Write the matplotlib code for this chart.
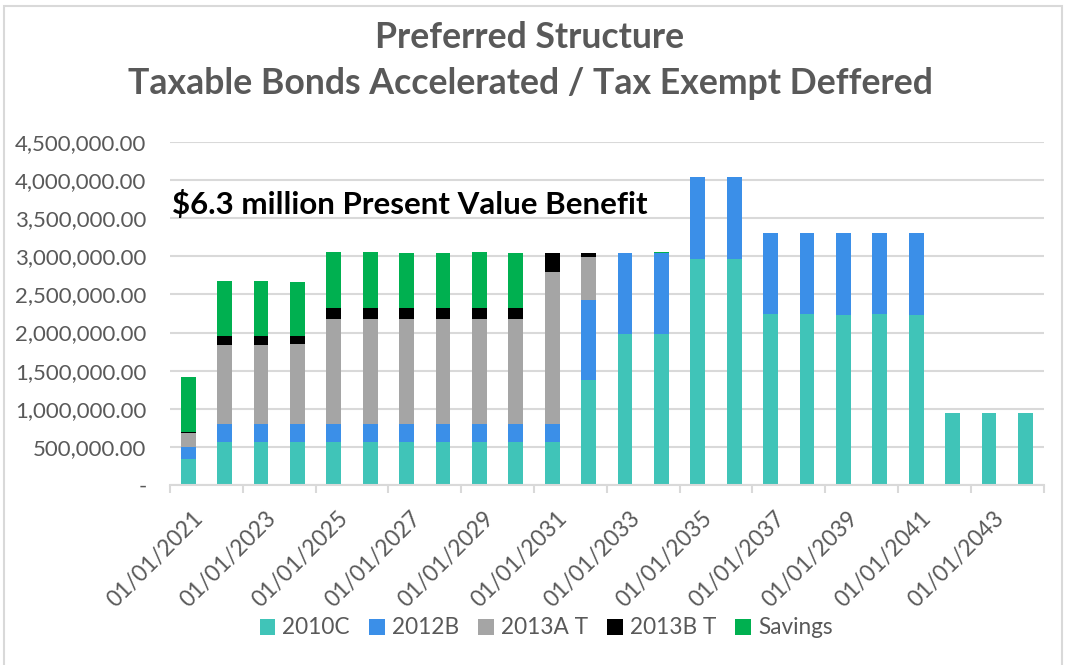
import matplotlib
matplotlib.use('Agg')
import matplotlib.pyplot as plt
from matplotlib.patches import Patch, Rectangle
from matplotlib.ticker import FuncFormatter, FixedLocator
from matplotlib.transforms import ScaledTranslation
import numpy as np

plt.rcParams['font.family'] = ['Lato', 'DejaVu Sans']

years = list(range(2021, 2045))
categories = [f"01/01/{y}" for y in years]

s2010C = [337000, 560000, 560000, 560000, 560000, 560000, 560000, 560000, 560000, 560000,
          560000, 1378000, 1982000, 1982000, 2970000, 2970000, 2240000, 2240000, 2227000,
          2240000, 2227000, 945000, 945000, 945000]
s2012B = [158000, 244000, 244000, 244000, 244000, 244000, 244000, 244000, 244000, 244000,
          244000, 1050000, 1058000, 1065000, 1068000, 1068000, 1063000, 1063000, 1076000,
          1063000, 1076000, 0, 0, 0]
s2013AT = [190000, 1033000, 1033000, 1046000, 1371000, 1371000, 1371000, 1371000, 1371000,
           1371000, 1996000, 560000, 0, 0, 0, 0, 0, 0, 0, 0, 0, 0, 0, 0]
s2013BT = [10000, 114000, 114000, 100000, 148000, 148000, 148000, 148000, 148000, 148000,
           240000, 52000, 0, 0, 0, 0, 0, 0, 0, 0, 0, 0, 0, 0]
savings = [717000, 730000, 730000, 718000, 739000, 735000, 722000, 722000, 731000, 722000,
           8000, 8000, 8000, 8000, 8000, 8000, 6000, 6000, 6000, 6000, 6000, 5000, 5000, 5000]

series = [s2010C, s2012B, s2013AT, s2013BT, savings]
series_names = ["2010C", "2012B", "2013A T", "2013B T", "Savings"]
colors = ["#40C4B8", "#3B8FE8", "#A5A5A5", "#000000", "#00B050"]

y_ticks = [0, 500000, 1000000, 1500000, 2000000, 2500000, 3000000, 3500000, 4000000, 4500000]

title_lines = ["Preferred Structure", "Taxable Bonds Accelerated / Tax Exempt Deffered"]
annotation = r"\$6.3 million Present Value Benefit"

W, H = 1068, 665
fig = plt.figure(figsize=(W / 100, H / 100), dpi=100)
fig.patch.set_facecolor('white')

# outer chart border
fig.patches.append(Rectangle((4 / W, -0.05), (1062 - 4) / W, 1.05 - 6 / H,
                             transform=fig.transFigure, fill=False,
                             edgecolor='#D9D9D9', linewidth=1.5))

ax = fig.add_axes([170 / W, 1 - 485 / H, (1043.6 - 170) / W, (485 - 142) / H])

x = np.arange(len(years))
bottom = np.zeros(len(years))
for vals, name, c in zip(series, series_names, colors):
    v = np.array(vals, dtype=float)
    ax.bar(x, v, width=0.41, bottom=bottom, color=c, label=name, zorder=3)
    bottom += v

ax.set_xlim(-0.5, len(years) - 0.5)
ax.set_ylim(0, 4500000)

for s in ['top', 'right', 'left']:
    ax.spines[s].set_visible(False)
ax.spines['bottom'].set_color('#D9D9D9')
ax.spines['bottom'].set_linewidth(1.5)
ax.spines['bottom'].set_zorder(4)

ax.yaxis.set_major_locator(FixedLocator(y_ticks))
ax.yaxis.set_major_formatter(FuncFormatter(lambda v, p: '-' if v == 0 else f"{v:,.2f}"))
ax.tick_params(axis='y', length=0, pad=17, labelsize=16, labelcolor='#595959')
ax.yaxis.grid(True, color='#D9D9D9', linewidth=1.5, zorder=0)
ax.set_axisbelow(True)

major = x[::2]
ax.set_xticks(major)
ax.set_xticklabels([categories[i] for i in major])
ax.set_xticks(np.arange(-0.5, len(years), 2), minor=True)
ax.tick_params(axis='x', which='major', length=0, pad=0, labelsize=16.3, labelcolor='#595959')
ax.tick_params(axis='x', which='minor', length=6, width=1.5, color='#D9D9D9')
off = ScaledTranslation(4 / 100, -23 / 100, fig.dpi_scale_trans)
for lab in ax.get_xticklabels():
    lab.set_rotation(45)
    lab.set_ha('right')
    lab.set_va('top')
    lab.set_rotation_mode('anchor')
    lab.set_transform(lab.get_transform() + off)

fig.text(530 / W, 1 - 37 / H, title_lines[0], ha='center', va='center',
         fontsize=25.7, fontweight='bold', color='#595959')
fig.text(530 / W, 1 - 84 / H, title_lines[1], ha='center', va='center',
         fontsize=25.7, fontweight='bold', color='#595959')

fig.text(172 / W, 1 - 205 / H, annotation, ha='left', va='center',
         fontsize=22.5, fontweight='bold', color='black')

handles = [Patch(facecolor=c) for c in colors]
fig.legend(handles, series_names, loc='center', bbox_to_anchor=(546 / W, 1 - 628 / H),
           ncol=5, frameon=False, handlelength=0.7, handleheight=0.7,
           handletextpad=0.3, columnspacing=0.85, fontsize=16.3, labelcolor='#595959')

fig.savefig('out.png', dpi=100, facecolor='white')
